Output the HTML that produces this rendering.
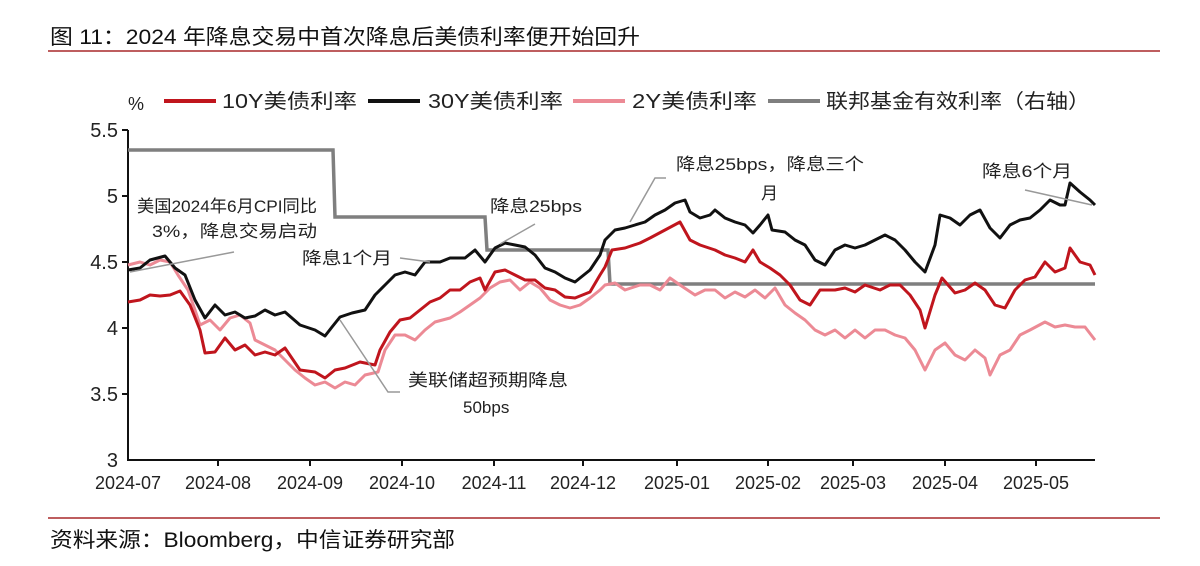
<!DOCTYPE html>
<html><head><meta charset="utf-8"><style>
body{margin:0;background:#fff;width:1200px;height:561px;overflow:hidden;font-family:"Liberation Sans","Noto Sans CJK SC",sans-serif}
</style></head><body>
<svg width="1200" height="561" xmlns="http://www.w3.org/2000/svg" font-family="Liberation Sans, Noto Sans CJK SC, sans-serif">
<text x="50" y="44" font-size="21" fill="#111" textLength="590" lengthAdjust="spacingAndGlyphs">图 11：2024 年降息交易中首次降息后美债利率便开始回升</text>
<line x1="48" y1="51" x2="1160" y2="51" stroke="#a8282a" stroke-width="1.5"/>
<text x="128" y="110" font-size="18" fill="#222">%</text>
<g font-size="20" fill="#222">
<line x1="164" y1="101" x2="216" y2="101" stroke="#c0151d" stroke-width="4"/><text x="222" y="108" textLength="135" lengthAdjust="spacingAndGlyphs">10Y美债利率</text>
<line x1="368" y1="101" x2="420" y2="101" stroke="#111" stroke-width="4"/><text x="428" y="108" textLength="135" lengthAdjust="spacingAndGlyphs">30Y美债利率</text>
<line x1="573" y1="101" x2="625" y2="101" stroke="#ec8a95" stroke-width="4"/><text x="632" y="108" textLength="125" lengthAdjust="spacingAndGlyphs">2Y美债利率</text>
<line x1="768" y1="101" x2="820" y2="101" stroke="#7f7f7f" stroke-width="4"/><text x="826" y="108" textLength="264" lengthAdjust="spacingAndGlyphs">联邦基金有效利率（右轴）</text>
</g>
<g font-size="20" fill="#222" text-anchor="end">
<text x="118" y="137">5.5</text><text x="118" y="203">5</text><text x="118" y="269">4.5</text><text x="118" y="335">4</text><text x="118" y="401">3.5</text><text x="118" y="467">3</text>
</g>
<g stroke="#111" stroke-width="2">
<line x1="128" y1="130" x2="128" y2="461"/><line x1="127" y1="460" x2="1095" y2="460"/>
<line x1="122" y1="130" x2="128" y2="130"/><line x1="122" y1="196" x2="128" y2="196"/><line x1="122" y1="262" x2="128" y2="262"/><line x1="122" y1="328" x2="128" y2="328"/><line x1="122" y1="394" x2="128" y2="394"/>
<line x1="218" y1="460" x2="218" y2="466"/><line x1="310" y1="460" x2="310" y2="466"/><line x1="402" y1="460" x2="402" y2="466"/><line x1="494" y1="460" x2="494" y2="466"/><line x1="583" y1="460" x2="583" y2="466"/><line x1="677" y1="460" x2="677" y2="466"/><line x1="768" y1="460" x2="768" y2="466"/><line x1="853" y1="460" x2="853" y2="466"/><line x1="945" y1="460" x2="945" y2="466"/><line x1="1036" y1="460" x2="1036" y2="466"/>
</g>
<g font-size="18" fill="#222" text-anchor="middle">
<text x="128" y="489">2024-07</text><text x="218" y="489">2024-08</text><text x="310" y="489">2024-09</text><text x="402" y="489">2024-10</text><text x="494" y="489">2024-11</text><text x="583" y="489">2024-12</text><text x="677" y="489">2025-01</text><text x="768" y="489">2025-02</text><text x="853" y="489">2025-03</text><text x="945" y="489">2025-04</text><text x="1036" y="489">2025-05</text>
</g>
<polyline fill="none" stroke="#7f7f7f" stroke-width="3.5" points="128,150 333,150 335,217 485,217 487,250 608,250 610,284 1095,284"/>
<polyline fill="none" stroke="#ec8a95" stroke-width="3" stroke-linejoin="round" points="128,265 140,262 150,265 160,260 170,262 178,275 188,290 195,310 200,325 210,320 220,330 230,318 240,315 250,323 255,340 265,345 275,350 285,360 295,370 305,378 315,385 325,382 335,388 345,382 355,385 365,375 378,372 385,350 395,335 405,335 415,340 425,330 435,322 450,318 460,312 470,305 480,298 490,288 500,282 510,280 520,290 530,282 540,288 550,300 560,305 570,308 580,305 590,298 600,290 605,285 615,283 625,290 640,285 650,285 660,290 670,278 680,285 695,295 705,290 715,290 725,298 735,292 745,297 755,290 765,298 775,288 785,305 795,313 805,320 815,330 825,335 835,330 845,338 855,330 865,338 875,330 885,330 895,335 905,338 915,350 925,370 935,350 945,343 955,355 965,360 975,350 985,358 990,375 1000,355 1010,350 1020,335 1030,330 1045,322 1055,327 1065,325 1075,327 1085,327 1095,340"/>
<polyline fill="none" stroke="#c0151d" stroke-width="3" stroke-linejoin="round" points="128,302 140,300 150,295 160,296 170,295 180,291 190,305 200,330 205,353 215,352 225,338 235,350 245,345 255,355 265,352 275,355 285,348 300,370 315,372 325,378 335,370 345,368 360,362 375,365 380,350 390,332 400,320 410,318 420,310 430,302 440,298 450,290 460,290 470,282 480,278 485,290 495,272 505,270 515,275 525,280 535,280 545,288 555,290 565,297 575,298 590,292 600,275 605,267 612,250 625,248 640,243 650,238 665,230 680,222 690,240 700,245 715,250 725,255 735,258 745,262 753,250 760,262 770,268 780,275 790,285 800,300 810,305 820,290 835,290 845,288 855,292 865,285 880,290 890,285 900,285 910,295 920,310 925,328 935,295 942,278 955,293 965,290 975,283 985,290 995,305 1005,308 1015,290 1025,280 1035,277 1045,262 1055,272 1065,268 1070,248 1080,262 1090,265 1095,275"/>
<polyline fill="none" stroke="#111" stroke-width="3" stroke-linejoin="round" points="128,270 140,268 150,260 165,256 175,268 185,275 195,300 205,318 215,305 225,315 235,312 245,318 255,316 265,310 275,315 285,312 300,325 315,330 325,336 332,327 340,317 352,313 365,310 375,295 385,285 395,275 405,272 415,275 425,262 440,262 450,258 465,258 475,250 485,262 495,248 505,243 515,245 525,247 535,255 545,268 555,272 565,278 575,282 580,278 590,270 600,255 605,240 615,230 625,228 635,225 645,222 655,215 665,210 675,203 685,200 690,212 700,218 710,215 715,210 725,218 735,222 745,225 753,233 760,225 768,215 772,230 785,232 795,240 805,245 815,260 825,265 835,250 845,245 855,248 865,245 875,240 885,235 895,240 905,250 915,262 925,272 935,245 940,215 950,218 960,225 970,215 980,210 990,228 1000,238 1010,225 1020,220 1030,218 1040,210 1050,200 1060,205 1065,205 1070,183 1080,192 1090,200 1095,205"/>
<g stroke="#999" stroke-width="1.5" fill="none">
<line x1="234" y1="252" x2="130" y2="272"/>
<line x1="400" y1="258" x2="430" y2="262"/>
<line x1="535" y1="224" x2="500" y2="244"/>
<polyline points="340,320 388,392 400,392"/>
<polyline points="666,178 655,178 630,222"/>
<line x1="1025" y1="190" x2="1092" y2="205"/>
</g>
<g font-size="17" fill="#222">
<text x="137" y="212" textLength="180" lengthAdjust="spacingAndGlyphs">美国2024年6月CPI同比</text>
<text x="152" y="237" textLength="165" lengthAdjust="spacingAndGlyphs">3%，降息交易启动</text>
<text x="490" y="212" textLength="92" lengthAdjust="spacingAndGlyphs">降息25bps</text>
<text x="302" y="264" textLength="90" lengthAdjust="spacingAndGlyphs">降息1个月</text>
<text x="408" y="386" textLength="160" lengthAdjust="spacingAndGlyphs">美联储超预期降息</text>
<text x="463" y="413">50bps</text>
<text x="676" y="170" textLength="188" lengthAdjust="spacingAndGlyphs">降息25bps，降息三个</text>
<text x="761" y="199">月</text>
<text x="982" y="177" textLength="90" lengthAdjust="spacingAndGlyphs">降息6个月</text>
</g>
<line x1="48" y1="518" x2="1160" y2="518" stroke="#a8282a" stroke-width="1.5"/>
<text x="50" y="547" font-size="21" fill="#111" textLength="405" lengthAdjust="spacingAndGlyphs">资料来源：Bloomberg，中信证券研究部</text>
</svg>
</body></html>
